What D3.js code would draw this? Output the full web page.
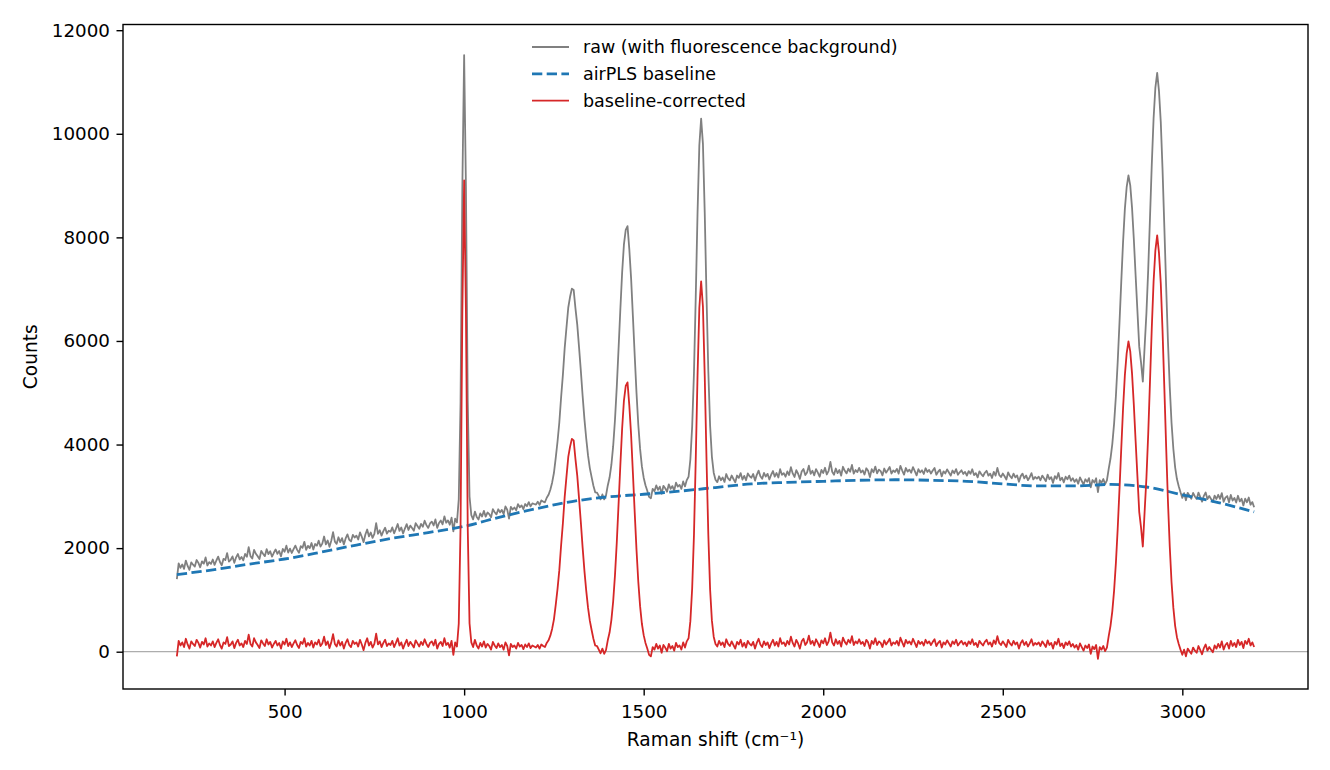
<!DOCTYPE html>
<html>
<head>
<meta charset="utf-8">
<script src="https://cdn.jsdelivr.net/npm/d3@7"></script>
<style>
  body { margin: 0; background: #fff; }
  svg { display: block; }
  text { font-family: "DejaVu Sans", sans-serif; fill: #000; }
</style>
</head>
<body>
<svg id="chart" width="1330" height="770"></svg>
<script>
// Raman shift grid (cm-1), one sample every 5 cm-1
const shifts = d3.range(200, 3201, 5);

// raw spectrum (with fluorescence background)
const rawCounts = [
  1400, 1705, 1620, 1685, 1600, 1760, 1655, 1580, 1725, 1680, 1645, 1770, 1715, 1630, 1745, 1700, 1820, 1665, 1730, 1695,
  1780, 1676, 1761, 1836, 1732, 1668, 1793, 1768, 1904, 1740, 1775, 1840, 1716, 1822, 1887, 1782, 1828, 1764, 1889, 1834,
  2020, 1845, 1800, 1965, 1890, 1845, 1790, 1945, 1890, 1845, 1980, 1885, 1940, 1835, 1910, 1975, 1890, 1945, 1840, 1985,
  1930, 2047, 1913, 1990, 1906, 1982, 2049, 1966, 1912, 2038, 2005, 2122, 1968, 2044, 2001, 2098, 1974, 2080, 2047, 2144,
  2030, 2087, 2224, 2071, 2148, 2025, 2142, 2309, 2126, 2083, 2210, 2117, 2194, 2071, 2188, 2265, 2162, 2129, 2256, 2203,
  2240, 2167, 2303, 2220, 2116, 2262, 2359, 2226, 2302, 2198, 2275, 2482, 2278, 2344, 2241, 2328, 2394, 2280, 2337, 2314,
  2400, 2286, 2371, 2466, 2332, 2398, 2283, 2378, 2464, 2350, 2435, 2390, 2336, 2482, 2427, 2372, 2468, 2414, 2529, 2444,
  2390, 2476, 2512, 2438, 2554, 2390, 2486, 2532, 2458, 2614, 2490, 2536, 2452, 2588, 2324, 2570, 2496, 2942, 4808, 8964,
  11520, 8979, 4838, 2997, 2636, 2555, 2704, 2603, 2552, 2671, 2610, 2719, 2608, 2687, 2656, 2595, 2754, 2693, 2652, 2751,
  2690, 2738, 2656, 2804, 2742, 2570, 2798, 2746, 2784, 2732, 2850, 2788, 2826, 2754, 2852, 2810, 2888, 2806, 2864, 2852,
  2840, 2897, 2834, 2921, 2898, 2885, 2972, 3029, 3126, 3263, 3450, 3737, 4054, 4421, 4908, 5345, 5862, 6259, 6646, 6853,
  7010, 6985, 6629, 6314, 5878, 5422, 4937, 4492, 4116, 3790, 3545, 3370, 3204, 3078, 3073, 3008, 2942, 3036, 2941, 3016,
  3210, 3363, 3605, 3968, 4470, 5103, 5845, 6608, 7320, 7863, 8145, 8218, 7770, 7203, 6475, 5718, 5000, 4383, 3915, 3578,
  3360, 3213, 3106, 2989, 2962, 3145, 3098, 3211, 3124, 3187, 3050, 3203, 3156, 3089, 3232, 3145, 3198, 3111, 3264, 3187,
  3220, 3144, 3287, 3191, 3314, 3378, 3711, 4345, 5378, 6852, 8475, 9779, 10292, 9806, 8479, 6853, 5416, 4360, 3763, 3457,
  3320, 3274, 3387, 3311, 3364, 3278, 3431, 3345, 3308, 3402, 3335, 3269, 3402, 3356, 3449, 3323, 3396, 3310, 3443, 3387,
  3360, 3432, 3303, 3415, 3496, 3388, 3339, 3451, 3382, 3434, 3325, 3417, 3488, 3380, 3451, 3363, 3524, 3416, 3447, 3379,
  3480, 3411, 3562, 3443, 3374, 3505, 3436, 3337, 3478, 3529, 3410, 3461, 3592, 3433, 3494, 3405, 3526, 3457, 3378, 3509,
  3450, 3551, 3422, 3493, 3664, 3475, 3416, 3537, 3448, 3509, 3400, 3571, 3492, 3443, 3534, 3475, 3606, 3437, 3508, 3469,
  3550, 3460, 3501, 3421, 3542, 3492, 3373, 3523, 3464, 3574, 3445, 3515, 3486, 3406, 3537, 3457, 3508, 3568, 3439, 3500,
  3470, 3530, 3439, 3589, 3498, 3418, 3547, 3477, 3516, 3456, 3565, 3485, 3404, 3524, 3463, 3503, 3432, 3542, 3471, 3511,
  3440, 3499, 3548, 3417, 3476, 3515, 3384, 3483, 3442, 3521, 3460, 3399, 3498, 3447, 3526, 3415, 3464, 3503, 3432, 3471,
  3400, 3488, 3435, 3523, 3410, 3448, 3365, 3483, 3430, 3388, 3455, 3493, 3400, 3438, 3355, 3473, 3400, 3548, 3415, 3373,
  3440, 3388, 3326, 3464, 3392, 3350, 3438, 3366, 3404, 3282, 3390, 3438, 3346, 3404, 3312, 3370, 3448, 3326, 3374, 3342,
  3380, 3310, 3400, 3350, 3290, 3420, 3330, 3370, 3260, 3390, 3340, 3450, 3310, 3360, 3270, 3380, 3330, 3400, 3300, 3350,
  3280, 3332, 3243, 3365, 3296, 3228, 3329, 3281, 3352, 3174, 3315, 3267, 3348, 3080, 3311, 3263, 3334, 3236, 3307, 3529,
  3730, 4008, 4405, 4933, 5590, 6348, 7145, 7913, 8550, 8968, 9195, 9003, 8570, 7958, 7260, 6573, 5890, 5588, 5215, 5883,
  6530, 7373, 8385, 9418, 10300, 10893, 11175, 10828, 10230, 9293, 8185, 7048, 5990, 5113, 4415, 3918, 3560, 3333, 3195, 3078,
  2970, 3063, 2925, 3068, 3010, 2953, 3065, 2998, 2950, 3073, 2985, 2898, 3010, 3073, 2945, 3008, 2950, 2893, 3015, 2948,
  3030, 2951, 3062, 2893, 2974, 3005, 2886, 3027, 2918, 2969, 2880, 3011, 2902, 2953, 2824, 2955, 2886, 2977, 2838, 2889,
  2790
];

// baseline-corrected spectrum
const correctedCounts = [
  -90, 210, 120, 180, 90, 250, 140, 60, 200, 150, 110, 230, 170, 80, 190, 140, 260, 100, 160, 120,
  200, 90, 170, 240, 130, 60, 180, 150, 280, 110, 140, 200, 70, 170, 230, 120, 160, 90, 210, 150,
  330, 150, 100, 260, 180, 130, 70, 220, 160, 110, 240, 140, 190, 80, 150, 210, 120, 170, 60, 200,
  140, 250, 110, 180, 90, 160, 220, 130, 70, 190, 150, 260, 100, 170, 120, 210, 80, 180, 140, 230,
  110, 160, 290, 130, 200, 70, 180, 340, 150, 100, 220, 120, 190, 60, 170, 240, 130, 90, 210, 150,
  180, 100, 230, 140, 30, 170, 260, 120, 190, 80, 150, 350, 140, 200, 90, 170, 230, 110, 160, 130,
  210, 90, 170, 260, 120, 180, 60, 150, 230, 110, 190, 140, 80, 220, 160, 100, 190, 130, 240, 150,
  90, 170, 200, 120, 230, 60, 150, 190, 110, 260, 130, 170, 80, 210, -60, 180, 100, 540, 2400, 6550,
  9100, 6550, 2400, 550, 180, 90, 230, 120, 60, 170, 100, 200, 80, 150, 110, 40, 190, 120, 70, 160,
  90, 130, 40, 180, 110, -70, 150, 90, 120, 60, 170, 100, 130, 50, 140, 90, 160, 70, 120, 100,
  80, 130, 60, 140, 110, 90, 170, 220, 310, 440, 620, 900, 1210, 1570, 2050, 2480, 2990, 3380, 3760, 3960,
  4110, 4080, 3720, 3400, 2960, 2500, 2010, 1560, 1180, 850, 600, 420, 250, 120, 110, 40, -30, 60, -40, 30,
  220, 370, 610, 970, 1470, 2100, 2840, 3600, 4310, 4850, 5130, 5200, 4750, 4180, 3450, 2690, 1970, 1350, 880, 540,
  320, 170, 60, -60, -90, 90, 40, 150, 60, 120, -20, 130, 80, 10, 150, 60, 110, 20, 170, 90,
  120, 40, 180, 80, 200, 260, 590, 1220, 2250, 3720, 5340, 6640, 7150, 6660, 5330, 3700, 2260, 1200, 600, 290,
  150, 100, 210, 130, 180, 90, 240, 150, 110, 200, 130, 60, 190, 140, 230, 100, 170, 80, 210, 150,
  120, 190, 60, 170, 250, 140, 90, 200, 130, 180, 70, 160, 230, 120, 190, 100, 260, 150, 180, 110,
  210, 140, 290, 170, 100, 230, 160, 60, 200, 250, 130, 180, 310, 150, 210, 120, 240, 170, 90, 220,
  160, 260, 130, 200, 370, 180, 120, 240, 150, 210, 100, 270, 190, 140, 230, 170, 300, 130, 200, 160,
  240, 150, 190, 110, 230, 180, 60, 210, 150, 260, 130, 200, 170, 90, 220, 140, 190, 250, 120, 180,
  150, 210, 120, 270, 180, 100, 230, 160, 200, 140, 250, 170, 90, 210, 150, 190, 120, 230, 160, 200,
  130, 190, 240, 110, 170, 210, 80, 180, 140, 220, 160, 100, 200, 150, 230, 120, 170, 210, 140, 180,
  110, 200, 150, 240, 130, 170, 90, 210, 160, 120, 190, 230, 140, 180, 100, 220, 150, 300, 170, 130,
  200, 150, 90, 230, 160, 120, 210, 140, 180, 60, 170, 220, 130, 190, 100, 160, 240, 120, 170, 140,
  180, 110, 200, 150, 90, 220, 130, 170, 60, 190, 140, 250, 110, 160, 70, 180, 130, 200, 100, 150,
  80, 130, 40, 160, 90, 20, 120, 70, 140, -40, 100, 50, 130, -140, 90, 40, 110, 10, 80, 300,
  500, 780, 1180, 1710, 2370, 3130, 3930, 4700, 5340, 5760, 5990, 5800, 5370, 4760, 4065, 3380, 2700, 2400, 2030, 2700,
  3350, 4200, 5220, 6260, 7150, 7750, 8040, 7700, 7110, 6180, 5080, 3950, 2900, 2030, 1340, 850, 500, 280, 150, 40,
  -60, 40, -90, 60, 10, -40, 80, 20, -20, 110, 30, -50, 70, 140, 20, 90, 40, -10, 120, 60,
  150, 80, 200, 40, 130, 170, 60, 210, 110, 170, 90, 230, 130, 190, 70, 210, 150, 250, 120, 180,
  90
];

// airPLS baseline, one knot every 100 cm-1
const baselineShifts = d3.range(200, 3201, 100);
const baselineCounts = [
  1490, 1580, 1690, 1790, 1920, 2060, 2190, 2300, 2420, 2600, 2760, 2900, 2990, 3040, 3100, 3170,
  3240, 3270, 3290, 3310, 3320, 3310, 3290, 3240, 3200, 3200, 3230, 3180, 3030, 2880, 2700
];

const xTicks = [500, 1000, 1500, 2000, 2500, 3000];
const yTicks = [0, 2000, 4000, 6000, 8000, 10000, 12000];
const legendLabels = ["raw (with fluorescence background)", "airPLS baseline", "baseline-corrected"];

const plotLeft = 123, plotRight = 1308, plotTop = 24.5, plotBottom = 689;
const svg = d3.select("#chart");

const x = d3.scaleLinear().domain([50, 3350]).range([plotLeft, plotRight]);
const y = d3.scaleLinear().domain([-720, 12110]).range([plotBottom, plotTop]);

const plot = svg.append("g");

// zero line
plot.append("line")
  .attr("x1", plotLeft).attr("x2", plotRight)
  .attr("y1", y(0)).attr("y2", y(0))
  .attr("stroke", "#999").attr("stroke-width", 1);

const line = d3.line()
  .x(d => x(d[0]))
  .y(d => y(d[1]));

plot.append("path")
  .datum(d3.zip(shifts, rawCounts))
  .attr("fill", "none")
  .attr("stroke", "#808080")
  .attr("stroke-width", 1.8)
  .attr("stroke-linejoin", "round")
  .attr("d", line);

plot.append("path")
  .datum(d3.zip(baselineShifts, baselineCounts))
  .attr("fill", "none")
  .attr("stroke", "#1f77b4")
  .attr("stroke-width", 2.8)
  .attr("stroke-dasharray", "10.3 4.4")
  .attr("d", line.curve(d3.curveMonotoneX));

line.curve(d3.curveLinear);

plot.append("path")
  .datum(d3.zip(shifts, correctedCounts))
  .attr("fill", "none")
  .attr("stroke", "#d62728")
  .attr("stroke-width", 1.8)
  .attr("stroke-linejoin", "round")
  .attr("d", line);

// axes
const xAxis = svg.append("g")
  .attr("transform", `translate(0,${plotBottom})`)
  .call(d3.axisBottom(x).tickValues(xTicks).tickSize(6.5).tickFormat(d3.format("d")));
xAxis.select(".domain").remove();
xAxis.selectAll("line").attr("stroke", "#000").attr("stroke-width", 1.4);
xAxis.selectAll("text")
  .attr("y", 29).attr("dy", null)
  .style("font-size", "18.3px");

const yAxis = svg.append("g")
  .attr("transform", `translate(${plotLeft},0)`)
  .call(d3.axisLeft(y).tickValues(yTicks).tickSize(6.5).tickPadding(6.5).tickFormat(d3.format("d")));
yAxis.select(".domain").remove();
yAxis.selectAll("line").attr("stroke", "#000").attr("stroke-width", 1.4);
yAxis.selectAll("text").style("font-size", "18.3px");

// frame
svg.append("rect")
  .attr("x", plotLeft).attr("y", plotTop)
  .attr("width", plotRight - plotLeft).attr("height", plotBottom - plotTop)
  .attr("fill", "none").attr("stroke", "#000").attr("stroke-width", 1.4);

// axis labels
svg.append("text")
  .attr("x", (plotLeft + plotRight) / 2).attr("y", 746)
  .attr("text-anchor", "middle")
  .style("font-size", "18.6px")
  .text("Raman shift (cm\u207B\u00B9)");

svg.append("text")
  .attr("transform", `translate(37,${(plotTop + plotBottom) / 2}) rotate(-90)`)
  .attr("text-anchor", "middle")
  .style("font-size", "18.6px")
  .text("Counts");

// legend
const legendStyles = [
  { color: "#808080", width: 1.8, dash: null },
  { color: "#1f77b4", width: 2.8, dash: "10.3 4.4" },
  { color: "#d62728", width: 1.8, dash: null }
];
const legend = svg.append("g");
legendLabels.forEach((label, i) => {
  const ly = 47 + i * 26.8;
  legend.append("line")
    .attr("x1", 532).attr("x2", 569)
    .attr("y1", ly).attr("y2", ly)
    .attr("stroke", legendStyles[i].color)
    .attr("stroke-width", legendStyles[i].width)
    .attr("stroke-dasharray", legendStyles[i].dash);
  legend.append("text")
    .attr("x", 583).attr("y", ly)
    .attr("dy", "0.35em")
    .style("font-size", "17.5px")
    .text(label);
});
</script>
</body>
</html>
